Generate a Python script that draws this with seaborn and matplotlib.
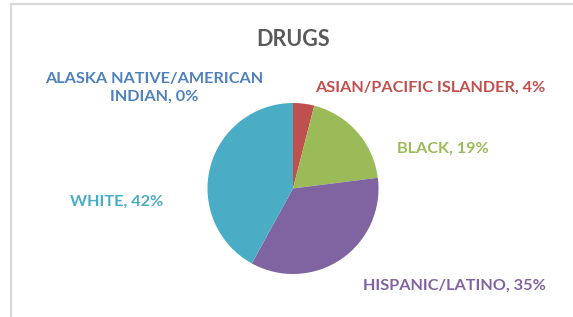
import matplotlib
matplotlib.use('Agg')
from matplotlib import pyplot as plt
import seaborn as sns


groups = ['ALASKA NATIVE/AMERICAN\nINDIAN', 'ASIAN/PACIFIC ISLANDER', 'BLACK', 'HISPANIC/LATINO', 'WHITE']
shares = [0, 4, 19, 35, 42]
colors = ['#4F81BD', '#C0504D', '#9BBB59', '#8064A2', '#4BACC6']

# label centres in pixels (x, y from top), Excel puts them by hand-ish
label_px = [(154, 88), (430, 88), (443, 149), (454, 286), (117, 202)]

W, H = 573, 317

sns.set_theme(style='white')
plt.rcParams['font.family'] = ['Lato', 'DejaVu Sans']

fig = plt.figure(figsize=(W / 100, H / 100), dpi=100)
fig.patch.set_facecolor('white')

# chart frame (cropped screenshot: only top and left edges show)
fig.add_artist(plt.Line2D([11 / W, 1.0], [1 - 4 / H, 1 - 4 / H], color='#D9D9D9', lw=1.6))
fig.add_artist(plt.Line2D([11 / W, 11 / W], [0.0, 1 - 4 / H], color='#D9D9D9', lw=1.6))

cx, cy, r = 293, 188.5, 85.5
ax = fig.add_axes([(cx - r) / W, (H - cy - r) / H, 2 * r / W, 2 * r / H])
palette = sns.color_palette(colors)
ax.pie(shares, colors=palette, startangle=90, counterclock=False,
       wedgeprops=dict(linewidth=0), radius=1)
ax.set_xlim(-1, 1)
ax.set_ylim(-1, 1)
ax.axis('off')

for name, val, col, (px, py) in zip(groups, shares, colors, label_px):
    fig.text(px / W, 1 - py / H, f'{name}, {val}%', color=col, fontsize=11.7,
             fontweight='bold', ha='center', va='center', linespacing=1.3)

fig.text(293 / W, 1 - 39 / H, 'DRUGS', color='#595959', fontsize=15.5,
         fontweight='bold', ha='center', va='center')

fig.savefig('out.png', dpi=100)
